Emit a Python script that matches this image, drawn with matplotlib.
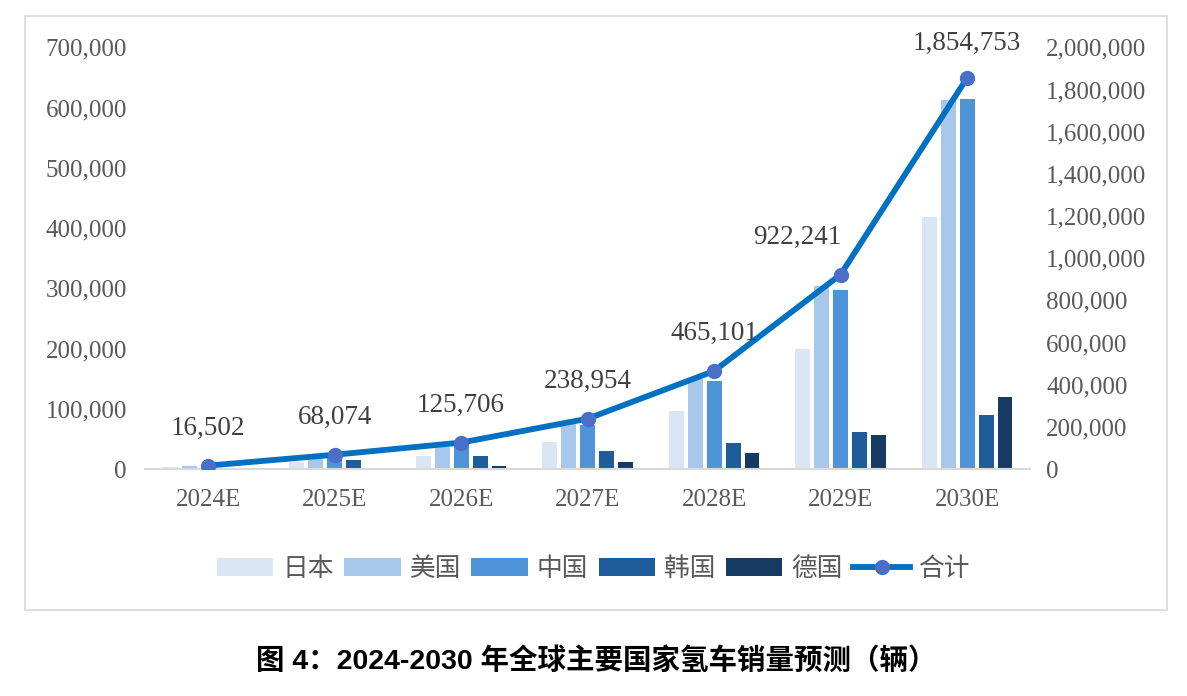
import matplotlib
matplotlib.use("Agg")
import matplotlib.pyplot as plt
from matplotlib.patches import Patch, Rectangle
from matplotlib.lines import Line2D
from matplotlib.ticker import FuncFormatter
import numpy as np

plt.rcParams['font.family'] = ['Liberation Serif', 'Noto Sans CJK SC', 'DejaVu Sans']

years = ["2024E", "2025E", "2026E", "2027E", "2028E", "2029E", "2030E"]
countries = ["日本", "美国", "中国", "韩国", "德国"]
japan = [3000, 11000, 22000, 45000, 96000, 200000, 418000]
usa = [5000, 16000, 36000, 79000, 150000, 304000, 612000]
china = [6000, 24000, 40000, 73000, 146000, 298000, 615000]
korea = [2000, 15000, 22000, 30000, 43000, 62000, 89000]
germany = [500, 2000, 5000, 12000, 26000, 57000, 120000]
total = [16502, 68074, 125706, 238954, 465101, 922241, 1854753]

colors = ["#DAE6F4", "#A7C8EA", "#4F94D8", "#1F5C9A", "#173A63"]
line_color = "#0070C0"
marker_color = "#4A6FC8"
text_grey = "#595959"

fig = plt.figure(figsize=(11.87, 6.96), dpi=100)
fig.patches.append(Rectangle((0.021, 0.1236), 0.962, 0.853, transform=fig.transFigure,
                             fill=False, edgecolor="#D9D9D9", linewidth=1.2))
ax = fig.add_axes([0.122, 0.326, 0.746, 0.606])
ax2 = ax.twinx()

x = np.arange(len(years))
slot = 0.15
width = 0.118
series = [japan, usa, china, korea, germany]
for i, (vals, c) in enumerate(zip(series, colors)):
    ax.bar(x + (i - 2) * slot, vals, width, color=c, zorder=2)

ax.set_xlim(-0.5, len(years) - 0.5)
ax.set_ylim(0, 700000)
ax.set_yticks(np.arange(0, 700001, 100000))
ax2.set_ylim(0, 2000000)
ax2.set_yticks(np.arange(0, 2000001, 200000))

fmt = FuncFormatter(lambda v, p: f"{int(v):,}")
ax.yaxis.set_major_formatter(fmt)
ax2.yaxis.set_major_formatter(fmt)
ax.set_xticks(x)
ax.set_xticklabels(years)

for a in (ax, ax2):
    for s in a.spines.values():
        s.set_visible(False)
    a.tick_params(length=0, labelsize=18, labelcolor=text_grey)
ax.spines["bottom"].set_visible(True)
ax.spines["bottom"].set_color("#D9D9D9")
ax.spines["bottom"].set_linewidth(1.5)
ax.tick_params(axis="y", pad=13)
ax.tick_params(axis="x", pad=14)
ax2.tick_params(axis="y", pad=11.5)

# total line on the right axis
ax2.plot(x, total, color=line_color, linewidth=4.2, solid_joinstyle="round",
         solid_capstyle="round", zorder=3)
ax2.plot(x, total, linestyle="none", marker="o", markersize=10,
         color=marker_color, zorder=4)

offsets = [(0, 27), (0, 27), (0, 27), (0, 27), (0, 27), (-31, 27), (0, 25)]
for xi, v, off in zip(x, total, offsets):
    ax2.annotate(f"{v:,}", (xi, v), xytext=off, textcoords="offset points",
                 ha="center", va="center", fontsize=19.5, color="#404040")

handles = [Patch(facecolor=c, edgecolor="none") for c in colors]
handles.append(Line2D([], [], color=line_color, linewidth=4.2, marker="o",
                      markersize=10, markerfacecolor=marker_color,
                      markeredgecolor=marker_color))
leg = fig.legend(handles, countries + ["合计"], loc="center", bbox_to_anchor=(0.5, 0.183),
                 ncol=6, frameon=False, handlelength=2.2, handleheight=0.7,
                 handletextpad=0.35, columnspacing=0.4,
                 prop={"family": ["Noto Sans CJK SC"], "size": 18.5})
for t in leg.get_texts():
    t.set_color(text_grey)

fig.text(0.502, 0.05, "图 4：2024-2030 年全球主要国家氢车销量预测（辆）", ha="center", va="center",
         fontsize=20.5, fontweight="bold", family=["Liberation Sans", "Noto Sans CJK SC"])

fig.savefig("out.png", dpi=100, facecolor="white")
